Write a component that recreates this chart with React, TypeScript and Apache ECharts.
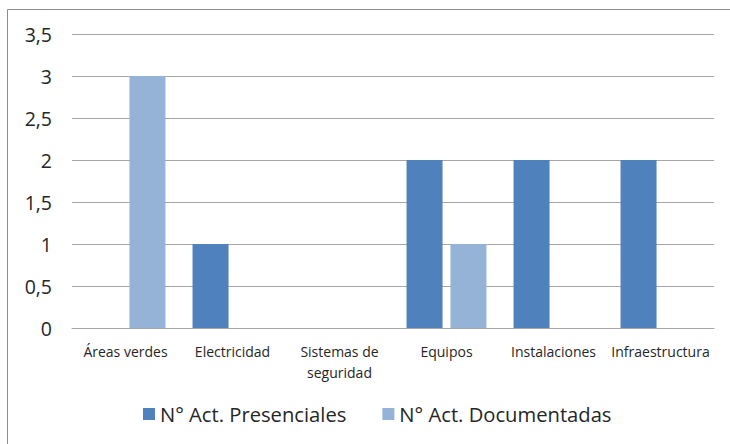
import React, { useEffect, useRef } from "react";
import * as echarts from "echarts";

const categories = ["Áreas verdes", "Electricidad", "Sistemas de\nseguridad", "Equipos", "Instalaciones", "Infraestructura"];
const presenciales = [0, 1, 0, 2, 2, 2];
const documentadas = [3, 0, 0, 1, 0, 0];
const seriesNames = ["N° Act. Presenciales", "N° Act. Documentadas"];

const FONT = "'Open Sans', Lato, sans-serif";

export default function App() {
  const ref = useRef<HTMLDivElement>(null);
  useEffect(() => {
    if (!ref.current) return;
    const chart = echarts.init(ref.current, undefined, { renderer: "svg" });
    chart.setOption({
      animation: false,
      textStyle: { fontFamily: FONT },
      graphic: [
        {
          type: "rect",
          shape: { x: 7.5, y: 9.5, width: 760, height: 460 },
          style: { fill: "none", stroke: "#8c8c8c", lineWidth: 1 },
          silent: true,
        },
      ],
      grid: { left: 72, right: 16, top: 34, bottom: 116 },
      legend: {
        data: seriesNames,
        top: 399,
        left: 138,
        itemWidth: 12,
        itemHeight: 12,
        itemGap: 36,
        icon: "rect",
        textStyle: { fontSize: 20.2, color: "#262626", fontFamily: FONT },
      },
      xAxis: {
        type: "category",
        data: categories,
        axisLine: { lineStyle: { color: "#a6a6a6", width: 1 } },
        axisTick: { show: false },
        axisLabel: { fontSize: 14, color: "#262626", margin: 13, lineHeight: 21, interval: 0, fontFamily: FONT },
      },
      yAxis: {
        type: "value",
        min: 0,
        max: 3.5,
        interval: 0.5,
        axisLine: { show: false },
        axisTick: { show: false },
        splitLine: { lineStyle: { color: "#a6a6a6", width: 1 } },
        axisLabel: {
          fontSize: 19.5,
          color: "#262626",
          margin: 20,
          fontFamily: FONT,
          formatter: (v: number) => String(v).replace(".", ","),
        },
      },
      series: [
        {
          name: seriesNames[0],
          type: "bar",
          data: presenciales,
          barWidth: 36,
          barGap: "22%",
          itemStyle: { color: "#4F81BD" },
        },
        {
          name: seriesNames[1],
          type: "bar",
          data: documentadas,
          barWidth: 36,
          barGap: "22%",
          itemStyle: { color: "#95B3D7" },
        },
      ],
    });
    return () => chart.dispose();
  }, []);
  return <div ref={ref} style={{ position: "fixed", left: 0, top: 0, width: 730, height: 444, background: "#fff" }} />;
}
